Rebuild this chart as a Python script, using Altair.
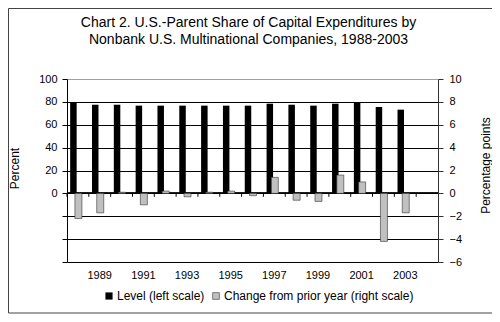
import altair as alt
import pandas as pd

title_lines = ["Chart 2. U.S.-Parent Share of Capital Expenditures by",
               "Nonbank U.S. Multinational Companies, 1988-2003"]
years = ["1988", "1989", "1990", "1991", "1992", "1993", "1994", "1995",
         "1996", "1997", "1998", "1999", "2000", "2001", "2002", "2003"]
categories = years + ["2004"]
label_years = ["1989", "1991", "1993", "1995", "1997", "1999", "2001", "2003"]
level = [79.3, 77.5, 77.5, 76.7, 76.7, 76.7, 76.7, 76.7,
         76.7, 78.4, 77.5, 76.7, 78.4, 79.6, 75.5, 73.2]
change = [-2.2, -1.7, 0.1, -1.0, 0.2, -0.3, 0.1, 0.2,
          -0.2, 1.4, -0.6, -0.7, 1.6, 1.0, -4.2, -1.7]
left_ticks = [-60, -40, -20, 0, 20, 40, 60, 80, 100]
right_ticks = [-6, -4, -2, 0, 2, 4, 6, 8, 10]
series_names = ["Level (left scale)", "Change from prior year (right scale)"]
series_colors = ["#000000", "#c0c0c0"]

df_level = pd.DataFrame({"year": years, "value": level, "series": series_names[0]})
df_change = pd.DataFrame({"year": years, "value": change, "series": series_names[1]})
cats = pd.DataFrame({"year": categories})
one = pd.DataFrame({"a": [0]})

x_scale = alt.Scale(domain=categories, paddingInner=0, paddingOuter=0)
x_axis = alt.Axis(values=label_years, title=None, ticks=False, tickSize=0, domain=False,
                  labelPadding=7, labelFontSize=11, labelColor="#000", labelAngle=0)

color_scale = alt.Scale(domain=series_names, range=series_colors)
legend = alt.Legend(orient="none", legendX=36, legendY=211, direction="horizontal",
                    title=None, symbolType="square", symbolSize=45, labelFontSize=12,
                    labelOffset=2, columnPadding=5, symbolStrokeColor="#333333",
                    symbolStrokeWidth=0.6, labelColor="#000", labelLimit=400)

left_axis = alt.Axis(
    values=left_ticks, labelExpr="datum.value >= 0 ? datum.label : ''",
    labelOverlap=False, tickCount=9,
    title="Percent", titleX=-53, titleY=89, titleAngle=270, titleAlign="center",
    titleBaseline="middle", titleFontSize=12, titleFontWeight="normal", titleColor="#000",
    labelFontSize=11, labelColor="#000", tickSize=5, labelPadding=5,
    tickColor="#000", domainColor="#000", grid=True, gridWidth=1,
    gridColor={"condition": {"test": "datum.value === 100", "value": "#a0a0a0"},
               "value": "#000000"},
)
right_axis = alt.Axis(
    orient="right", values=right_ticks, title="Percentage points", titleX=47, titleY=86,
    labelOverlap=False,
    titleAngle=270, titleAlign="center", titleBaseline="middle", titleFontSize=12,
    titleFontWeight="normal", titleColor="#000", labelFontSize=11, labelColor="#000",
    tickSize=5, labelPadding=6, tickColor="#333", domainColor="#333", grid=False,
)

left_scale = alt.Scale(domain=[-60, 100], nice=False)
right_scale = alt.Scale(domain=[-6, 10], nice=False)

level_bars = alt.Chart(df_level).mark_bar(width=6.5, xOffset=-4.5).encode(
    x=alt.X("year:N", scale=x_scale, axis=x_axis),
    y=alt.Y("value:Q", scale=left_scale, axis=left_axis),
    color=alt.Color("series:N", scale=color_scale, legend=legend),
)

zero_line = alt.Chart(df_level).mark_rule(color="#000", strokeWidth=1).encode(
    y=alt.YDatum(0),
)

zero_ticks = alt.Chart(cats).mark_rule(color="#000", strokeWidth=1).encode(
    x=alt.X("year:N", scale=x_scale, bandPosition=0),
    y=alt.YDatum(0),
    y2=alt.Y2Datum(-3),
)

frame = alt.Chart(one).mark_rect(
    fillOpacity=0, stroke="#444444", strokeWidth=1
).encode(
    x=alt.value(-58.5), x2=alt.value(427), y=alt.value(-70.5), y2=alt.value(234),
)

title1 = alt.Chart(one).mark_text(
    fontSize=14, font="Liberation Sans", color="#000", align="center", baseline="alphabetic"
).encode(x=alt.value(181.5), y=alt.value(-52), text=alt.value(title_lines[0]))
title2 = alt.Chart(one).mark_text(
    fontSize=14, font="Liberation Sans", color="#000", align="center", baseline="alphabetic"
).encode(x=alt.value(181.5), y=alt.value(-35), text=alt.value(title_lines[1]))

left_layer = alt.layer(frame, title1, title2, level_bars, zero_line, zero_ticks)

change_bars = alt.Chart(df_change).mark_bar(width=7, xOffset=0.5, stroke="#333333",
                                            strokeWidth=0.6).encode(
    x=alt.X("year:N", scale=x_scale),
    y=alt.Y("value:Q", scale=right_scale, axis=right_axis),
    color=alt.Color("series:N", scale=color_scale, legend=legend),
)

chart = alt.layer(left_layer, change_bars).resolve_scale(y="independent").properties(
    width=371,
    height=183,
    autosize=alt.AutoSizeParams(type="none"),
    padding={"left": 59, "top": 71, "right": 54, "bottom": 52},
).configure(font="Liberation Sans").configure_view(strokeWidth=0)

chart.save("out.html", embed_options={"renderer": "svg", "actions": False})
